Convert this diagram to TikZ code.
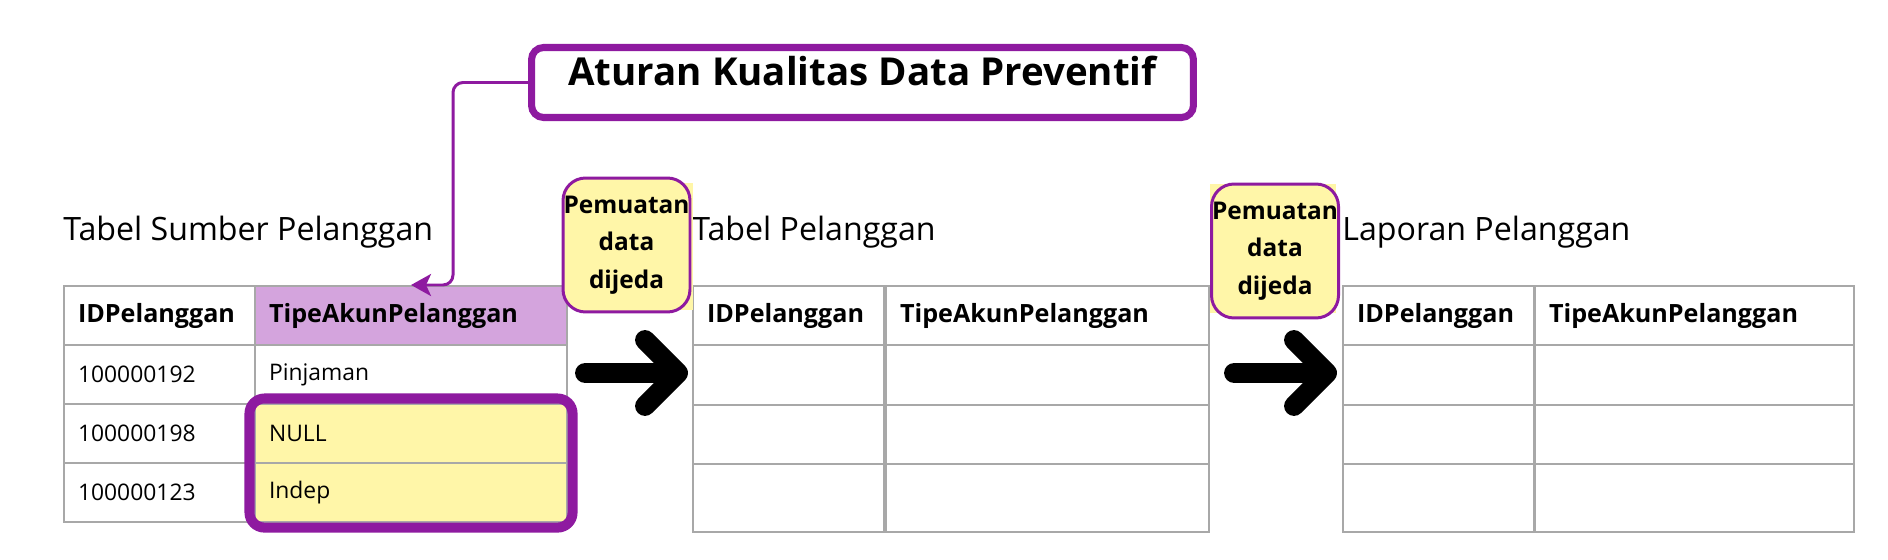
\documentclass[tikz,border=0pt]{standalone}
\usepackage{fontspec}
\setmainfont{Open Sans}
\usetikzlibrary{positioning, arrows.meta, fit}
\definecolor{ungu}{RGB}{142,26,160}
\definecolor{unguMuda}{RGB}{212,164,221}
\definecolor{kuning}{RGB}{255,246,168}
\definecolor{garis}{RGB}{168,168,168}
\tikzset{
cell/.style={draw=garis, line width=1.2pt, anchor=north west, inner xsep=0.28cm, inner ysep=0pt, minimum height=1.18cm, align=left, font=\fontsize{13}{15}\selectfont}, % sel tabel
kolA/.style={text width=3.26cm}, % kolom IDPelanggan
kepala/.style={font=\fontsize{14.3}{16}\selectfont\bfseries}, % baris judul kolom
judul/.style={anchor=base west, inner sep=0pt, font=\fontsize{18.3}{20}\selectfont}, % nama tabel
jeda/.style={draw=ungu, fill=kuning, line width=1.7pt, rounded corners=0.45cm, minimum width=2.54cm, minimum height=2.68cm, inner sep=0pt, align=center, font=\fontsize{13.9}{21.3}\selectfont\bfseries}, % kotak pemuatan dijeda
panahBesar/.style={line width=11.3pt, line cap=round, line join=round}, % panah hitam tebal
konektor/.style={draw=ungu, line width=1.7pt, rounded corners=0.2cm, -{Stealth[length=0.4cm, width=0.44cm, inset=0.1cm]}}, % garis dari aturan
}
\begin{document}
\begin{tikzpicture}[x=0.02cm, y=-0.02cm]
\useasboundingbox (0,0) rectangle (1888,560);

% aturan di atas
\node[draw=ungu, line width=4pt, rounded corners=0.24cm, minimum width=13.24cm, minimum height=1.4cm, text height=0.62cm, text depth=0.48cm, inner sep=0pt, font=\fontsize{21.9}{26}\selectfont\bfseries] (aturan) at (862.5,82.5) {Aturan Kualitas Data Preventif};

% tabel sumber
\node[cell, kepala, kolA] (s0a) at (63,285) {IDPelanggan};
\node[cell, kepala, text width=5.68cm, fill=unguMuda] (s0b) at (254,285) {TipeAkunPelanggan};
\foreach \n/\id/\tipe/\y/\isi in {1/100000192/Pinjaman/344/white, 2/100000198/NULL/403/kuning, 3/100000123/Indep/462/kuning}{
    \node[cell, kolA] (s\n a) at (63,\y) {\id};
    \node[cell, text width=5.68cm, fill=\isi] (s\n b) at (254,\y) {\tipe};
}
\node[judul] (judulS) at ([yshift=0.9cm]s0a.north west) {Tabel Sumber Pelanggan};
\node[draw=ungu, line width=5.7pt, rounded corners=0.3cm, inner sep=0.09cm, fit=(s2b)(s3b)] (sorotan) {};

% tabel pelanggan dan laporan
\foreach \t/\xa/\xb/\wb in {t/692/885/5.9, l/1342/1534/5.82}{
    \node[cell, kepala, kolA] (\t0a) at (\xa,285) {IDPelanggan};
    \node[cell, kepala, text width=\wb cm] (\t0b) at (\xb,285) {TipeAkunPelanggan};
    \foreach \n/\y/\h in {1/344/1.2, 2/404/1.18, 3/463/1.36}{
        \node[cell, kolA, minimum height=\h cm] (\t\n a) at (\xa,\y) {};
        \node[cell, text width=\wb cm, minimum height=\h cm] (\t\n b) at (\xb,\y) {};
    }
}
\node[judul] (judulT) at ([yshift=0.9cm]t0a.north west) {Tabel Pelanggan};
\node[judul] (judulL) at ([yshift=0.9cm]l0a.north west) {Laporan Pelanggan};

% pemuatan dijeda
\fill[kuning] (580,183) rectangle (693,310);
\fill[kuning] (1210,184) rectangle (1336,313);
\node[jeda] (jeda1) at (626.5,245) {Pemuatan\\data\\dijeda};
\node[jeda] (jeda2) at (1275,251) {Pemuatan\\data\\dijeda};

% panah
\coordinate (p1a) at (585,373);
\coordinate (p1b) at (678,373);
\coordinate (p2a) at (1234,373);
\coordinate (p2b) at (1327,373);
\draw[panahBesar] (p1a) -- (p1b) -- +(-33,-33) (p1b) -- +(-33,33);
\draw[panahBesar] (p2a) -- (p2b) -- +(-33,-33) (p2b) -- +(-33,33);
\draw[konektor] (aturan.west) -| ([xshift=0.84cm]s0b.north) -- (s0b.north);
\end{tikzpicture}
\end{document}
